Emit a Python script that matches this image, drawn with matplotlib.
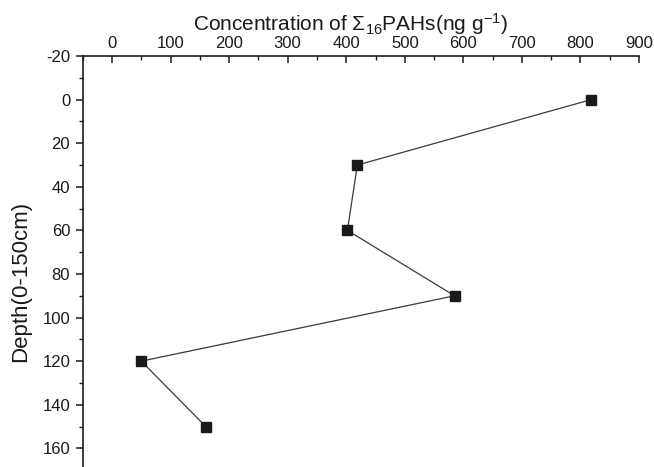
import matplotlib
matplotlib.use("Agg")
import matplotlib.pyplot as plt
from matplotlib.ticker import MultipleLocator

plt.rcParams['font.family'] = ['Liberation Sans', 'DejaVu Sans']
plt.rcParams['mathtext.fontset'] = 'custom'
plt.rcParams['mathtext.rm'] = 'Liberation Sans'
plt.rcParams['mathtext.it'] = 'Liberation Sans'
plt.rcParams['axes.unicode_minus'] = False

# Total PAH concentration (ng/g) by sediment depth (cm)
depth = [0, 30, 60, 90, 120, 150]
concentration = [818, 419, 402, 585, 50, 160]

x_ticks = [0, 100, 200, 300, 400, 500, 600, 700, 800, 900]
y_ticks = [-20, 0, 20, 40, 60, 80, 100, 120, 140, 160]

fig = plt.figure(figsize=(6.54, 4.67), dpi=100)
ax = fig.add_axes([0.1265, -0.0066, 0.8506, 0.8865])

ax.plot(concentration, depth, color='#3a3a3a', lw=0.9, zorder=2)
ax.plot(concentration, depth, linestyle='none', marker='s', markersize=6.6,
        markerfacecolor='#1a1a1a', markeredgecolor='#1a1a1a', zorder=3)

ax.set_xlim(-50, 900)
ax.set_ylim(170, -20)

ax.xaxis.tick_top()
ax.set_xticks(x_ticks)
ax.set_yticks(y_ticks)
ax.xaxis.set_minor_locator(MultipleLocator(50))
ax.yaxis.set_minor_locator(MultipleLocator(10))

for side in ['right', 'bottom']:
    ax.spines[side].set_visible(False)
for side in ['left', 'top']:
    ax.spines[side].set_linewidth(1.2)
    ax.spines[side].set_color('#1a1a1a')

ax.tick_params(axis='x', which='major', direction='in', length=5, width=1.1,
               labelsize=12, pad=4, colors='#1a1a1a', top=True, bottom=False)
ax.tick_params(axis='x', which='minor', direction='in', length=3, width=1.0,
               top=True, bottom=False, colors='#1a1a1a')
ax.tick_params(axis='y', which='major', direction='out', length=5, width=1.1,
               labelsize=12, pad=4, colors='#1a1a1a')
ax.tick_params(axis='y', which='minor', direction='out', length=3, width=1.0,
               colors='#1a1a1a')

fig.text(193 / 654, 1 - 31 / 467,
         r'Concentration of $\Sigma_{16}$PAHs(ng g$^{-1}$)',
         ha='left', va='baseline', fontsize=15, color='#1a1a1a')
fig.text(21 / 654, 1 - 281 / 467, 'Depth(0-150cm)', rotation=90,
         ha='center', va='center', fontsize=16, color='#1a1a1a')

fig.savefig('out.png', dpi=100)
